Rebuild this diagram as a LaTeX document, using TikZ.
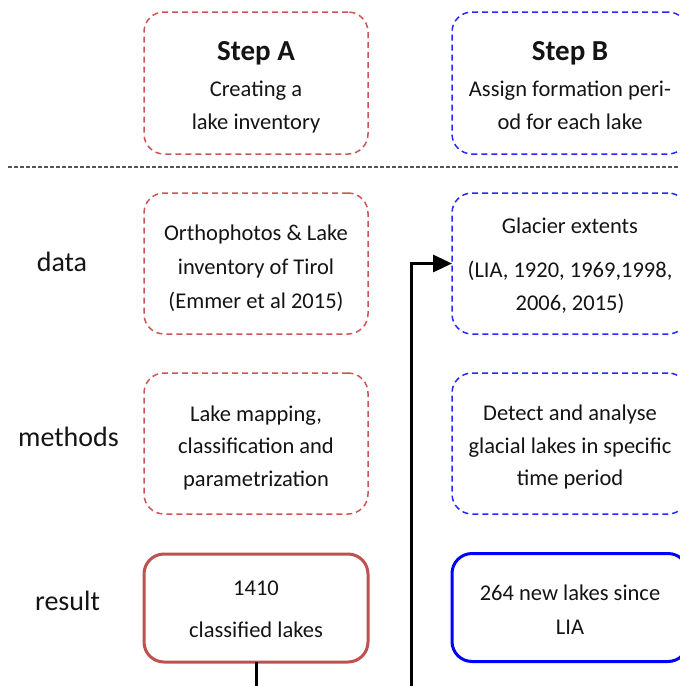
\documentclass[tikz,border=0pt]{standalone}
\usepackage{fontspec}
\setmainfont{Carlito}
\usetikzlibrary{arrows.meta}
\definecolor{boxred}{RGB}{192,80,77}
\definecolor{dashred}{RGB}{205,85,85}
\definecolor{boxblue}{RGB}{0,0,255}
\definecolor{dashblue}{RGB}{40,40,255}
\definecolor{sepgray}{RGB}{85,85,85}
\definecolor{txt}{RGB}{20,20,20}
\begin{document}
\begin{tikzpicture}[x=1pt,y=-1pt,
  box/.style={rounded corners=20pt, inner sep=0pt, outer sep=0pt},
  redbox/.style={box, draw=dashred, line width=1.5pt, dash pattern=on 6pt off 4pt},
  bluebox/.style={box, draw=dashblue, line width=1.5pt, dash pattern=on 6pt off 4pt},
  redres/.style={box, draw=boxred, line width=3pt},
  blueres/.style={box, draw=boxblue, line width=3pt},
  bodytxt/.style={anchor=base, inner sep=0pt, text=txt, font=\fontsize{22.5}{27}\selectfont},
  titletxt/.style={anchor=base, inner sep=0pt, text=txt, font=\fontsize{29}{34}\selectfont\bfseries},
  labeltxt/.style={anchor=base, inner sep=0pt, text=txt, font=\fontsize{28}{33}\selectfont},
  conn/.style={draw=black, line width=3pt},
  sep/.style={draw=sepgray, line width=2pt, dash pattern=on 4pt off 2pt}
]
\useasboundingbox (0,0) rectangle (680,686);
\clip (0,0) rectangle (680,686);

% boxes
\node[redbox, minimum width=224pt, minimum height=142pt] (stepA) at (256,83) {};
\node[bluebox, minimum width=236pt, minimum height=142pt] (stepB) at (570,83) {};
\node[redbox, minimum width=224pt, minimum height=141pt] (dataA) at (256,263.5) {};
\node[bluebox, minimum width=236pt, minimum height=141pt] (dataB) at (570,263.5) {};
\node[redbox, minimum width=224pt, minimum height=141pt] (methA) at (256,443.5) {};
\node[bluebox, minimum width=236pt, minimum height=141pt] (methB) at (570,443.5) {};
\node[redres, minimum width=224pt, minimum height=108pt] (resA) at (256,608) {};
\node[blueres, minimum width=236pt, minimum height=108pt] (resB) at (570,607.5) {};

% separator
\coordinate (sepL) at (8,167);
\coordinate (sepR) at (682,167);
\draw[sep] (sepL) -- (sepR);

% header texts
\node[titletxt] (tA) at (256,60) {Step A};
\node[bodytxt] (tA2) at (256,96.5) {Creating a};
\node[bodytxt] (tA3) at (256,129.5) {lake inventory};
\node[titletxt] (tB) at (570,60) {Step B};
\node[bodytxt] (tB2) at (570,96) {Assign formation peri-};
\node[bodytxt] (tB3) at (570,129) {od for each lake};

% data
\node[bodytxt] (dA1) at (256,240) {Orthophotos \& Lake};
\node[bodytxt] (dA2) at (256,274) {inventory of Tirol};
\node[bodytxt] (dA3) at (256,308) {(Emmer et al 2015)};
\node[bodytxt] (dB1) at (570,233) {Glacier extents};
\node[bodytxt] (dB2) at (570,277) {(LIA, 1920, 1969,1998,};
\node[bodytxt] (dB3) at (570,310) {2006, 2015)};

% methods
\node[bodytxt] (mA1) at (256,421.5) {Lake mapping,};
\node[bodytxt] (mA2) at (256,453.5) {classification and};
\node[bodytxt] (mA3) at (256,486) {parametrization};
\node[bodytxt] (mB1) at (570,420.5) {Detect and analyse};
\node[bodytxt] (mB2) at (570,453) {glacial lakes in specific};
\node[bodytxt] (mB3) at (570,485.5) {time period};

% results
\node[bodytxt] (rA1) at (256,595) {1410};
\node[bodytxt] (rA2) at (256,637) {classified lakes};
\node[bodytxt] (rB1) at (570,600) {264 new lakes since};
\node[bodytxt] (rB2) at (570,634) {LIA};

% row labels
\node[labeltxt] (ldata) at (62,271.5) {data};
\node[labeltxt] (lmeth) at (68.5,446.5) {methods};
\node[labeltxt] (lres) at (67.5,610.5) {result};

% connectors
\coordinate (botA) at (256,700);
\coordinate (botB) at (411,700);
\draw[conn] (resA.south) -- (botA);
\draw[conn, -{Triangle[length=19pt,width=17pt]}] (botB) |- (dataB.west);
\end{tikzpicture}
\end{document}
